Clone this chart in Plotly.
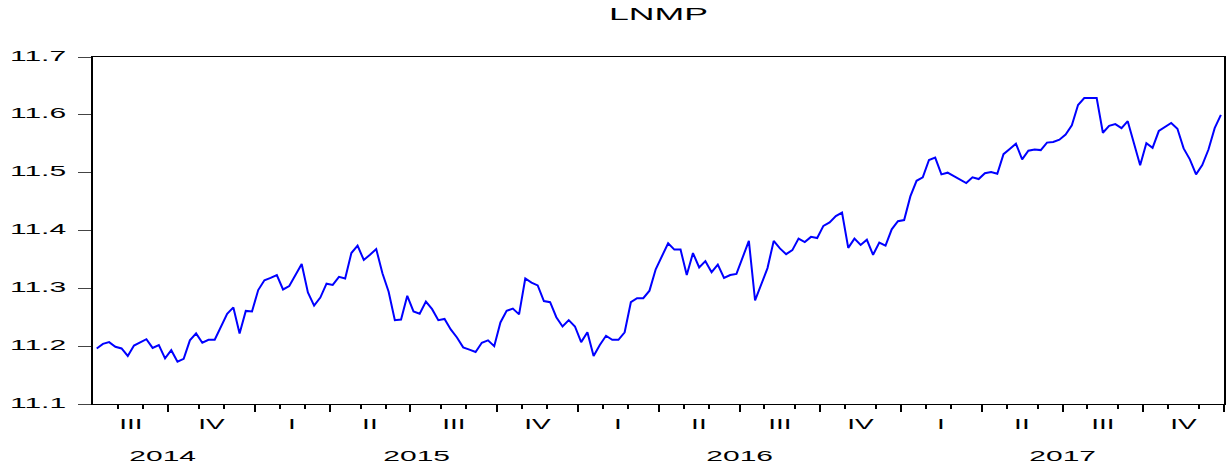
import plotly.graph_objects as go

# ---------------- data ----------------
title_text = "LNMP"

lnmp = [
    # Jul 2014 - Feb 2015
    11.196, 11.204, 11.207, 11.199, 11.196, 11.183, 11.201, 11.206, 11.212, 11.197,
    11.202, 11.179, 11.193, 11.173, 11.178, 11.210, 11.222, 11.206, 11.211, 11.211,
    11.235, 11.256, 11.267, 11.222, 11.261, 11.260, 11.297, 11.314, 11.318, 11.323,
    11.298, 11.304,
    # 2015
    11.323, 11.342, 11.293, 11.270, 11.284, 11.308, 11.306, 11.320, 11.317, 11.361,
    11.374, 11.349, 11.358, 11.368, 11.326, 11.294, 11.245, 11.246, 11.287, 11.260,
    11.256, 11.277, 11.264, 11.245, 11.247, 11.229, 11.215, 11.198, 11.194, 11.190,
    11.206, 11.210, 11.200, 11.241, 11.261, 11.265, 11.255, 11.317, 11.310, 11.305,
    11.278, 11.276, 11.250, 11.234, 11.245, 11.234, 11.207, 11.224, 11.183, 11.202,
    11.218, 11.211, 11.211, 11.224, 11.276, 11.283, 11.283, 11.296, 11.333, 11.355,
    11.378,
    # 2016
    11.367, 11.367, 11.323, 11.361, 11.336, 11.347, 11.328, 11.341, 11.318, 11.323,
    11.325, 11.354, 11.382, 11.279, 11.306, 11.335, 11.382, 11.369, 11.359, 11.366,
    11.386, 11.380, 11.389, 11.387, 11.408, 11.414, 11.425, 11.431, 11.370, 11.386,
    11.375, 11.384, 11.358, 11.379, 11.374, 11.402, 11.416, 11.418, 11.459, 11.486,
    11.492, 11.522, 11.526, 11.497, 11.500, 11.494, 11.487, 11.482, 11.492, 11.489,
    11.499, 11.501, 11.498, 11.532, 11.541, 11.550, 11.523, 11.538, 11.540, 11.539,
    11.552,
    # 2017
    11.553, 11.557, 11.566, 11.582, 11.617, 11.629, 11.629, 11.629, 11.569, 11.581,
    11.584, 11.577, 11.589, 11.551, 11.513, 11.551, 11.543, 11.572, 11.579, 11.586,
    11.576, 11.542, 11.523, 11.497, 11.513, 11.540, 11.577, 11.600,
]
obs = list(range(len(lnmp)))  # weekly observation number

y_ticks = [11.1, 11.2, 11.3, 11.4, 11.5, 11.6, 11.7]
y_tick_labels = ["11.1", "11.2", "11.3", "11.4", "11.5", "11.6", "11.7"]

# quarter boundaries (observation positions, between weeks)
quarter_bounds = [-0.5, 11.5, 25.5, 37.5, 50.5, 64.5, 77.5, 90.5, 103.5,
                  116.5, 129.5, 142.5, 155.5, 168.5, 181.5]
quarter_labels = ["III", "IV", "I", "II", "III", "IV", "I", "II",
                  "III", "IV", "I", "II", "III", "IV"]
# month boundaries inside quarters
month_bounds = [3.5, 7.5, 16.5, 20.5, 29.5, 33.5, 42.5, 46.5, 55.5, 59.5,
                68.5, 72.5, 81.5, 85.5, 94.5, 98.5, 107.5, 112.5, 120.5, 125.5,
                133.5, 137.5, 146.5, 151.5, 159.5, 164.5, 172.5, 177.5]
year_labels = ["2014", "2015", "2016", "2017"]
year_pos = [10.6, 51.5, 103.5, 155.5]

# ---------------- figure ----------------
W, H = 1229, 468
ML, MR, MT, MB = 93, 3, 57, 64
plot_w = W - ML - MR
plot_h = H - MT - MB
FONT = "Liberation Sans, Arial, sans-serif"

fig = go.Figure()
fig.add_trace(go.Scatter(
    x=obs, y=lnmp, mode="lines",
    line=dict(color="#0000FF", width=2),
    hoverinfo="x+y", showlegend=False,
))

annotations = []
# y-axis value labels (drawn as text next to the axis ticks)
for v, lab in zip(y_ticks, y_tick_labels):
    annotations.append(dict(
        x=-(ML - 38.0) / plot_w, xref="paper", y=v, yref="y",
        text=lab, showarrow=False, xanchor="center", yanchor="middle",
        yshift=2, font=dict(family=FONT, size=15, color="black"),
    ))
for i, lab in enumerate(quarter_labels):
    xc = (quarter_bounds[i] + quarter_bounds[i + 1]) / 2
    annotations.append(dict(
        x=xc, xref="x", y=-(423.7 - (H - MB)) / plot_h, yref="paper",
        text=lab, showarrow=False, xanchor="center", yanchor="middle",
        font=dict(family=FONT, size=14, color="black"),
    ))
for lab, xp in zip(year_labels, year_pos):
    annotations.append(dict(
        x=xp, xref="x", y=-(455.3 - (H - MB)) / plot_h, yref="paper",
        text=lab, showarrow=False, xanchor="center", yanchor="middle",
        font=dict(family=FONT, size=15, color="black"),
    ))

fig.update_layout(
    width=W, height=H,
    margin=dict(l=ML, r=MR, t=MT, b=MB, pad=0),
    paper_bgcolor="white", plot_bgcolor="white",
    showlegend=False,
    title=dict(
        text=title_text, x=0.5, xref="paper", xanchor="center",
        y=1 - 14.5 / H, yref="container", yanchor="middle",
        font=dict(family=FONT, size=17, color="black"),
    ),
    annotations=annotations,
    xaxis=dict(
        range=[-0.6, 181.5],
        tickmode="array", tickvals=quarter_bounds[1:],
        ticktext=[""] * (len(quarter_bounds) - 1),
        showticklabels=False,
        ticks="outside", ticklen=7, tickwidth=2, tickcolor="black",
        minor=dict(tickmode="array", tickvals=month_bounds, ticks="outside",
                   ticklen=4, tickwidth=2, tickcolor="black", showgrid=False),
        showgrid=False, zeroline=False,
        showline=True, mirror=True, linecolor="black", linewidth=1,
    ),
    yaxis=dict(
        range=[11.1, 11.7],
        tickmode="array", tickvals=y_ticks,
        showticklabels=False,
        ticks="outside", ticklen=13, tickwidth=1, tickcolor="#444444",
        showgrid=False, zeroline=False,
        showline=True, mirror=True, linecolor="black", linewidth=2,
    ),
)

post = """
var s = document.createElement('style');
s.textContent = 'body{margin:0;overflow:hidden;}' +
 '.annotation-text{transform-box:fill-box;transform-origin:50% 50%;scale:2.0 1;}' +
 '.gtitle{transform-box:fill-box;transform-origin:50% 50%;scale:2.1 1;}';
document.head.appendChild(s);
"""

fig.write_html("out.html", post_script=post, config={"displayModeBar": False})
